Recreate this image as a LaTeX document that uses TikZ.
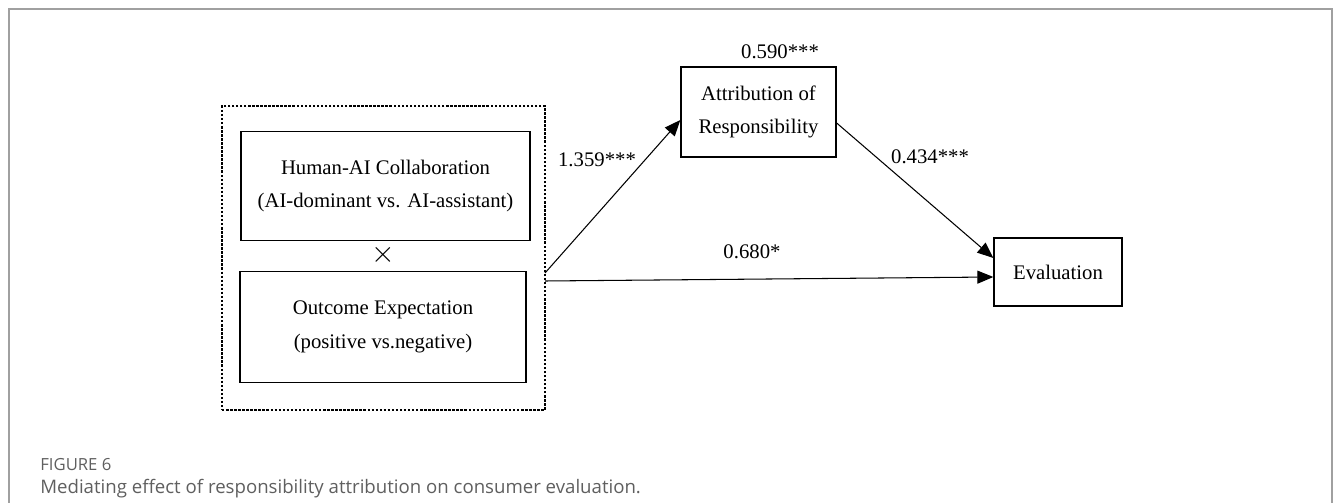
\documentclass[tikz,border=0pt]{standalone}
\usepackage{fontspec}
\setmainfont{Liberation Serif}
\newfontfamily\capfont{Open Sans}
\usetikzlibrary{arrows.meta}

\definecolor{framegray}{RGB}{160,160,160}
\definecolor{capgray}{RGB}{95,95,95}

\tikzset{
  varbox/.style={draw, line width=0.75pt, align=center, inner sep=0pt,
    font=\fontsize{11.8}{19}\selectfont},
  coef/.style={font=\fontsize{11.8}{14}\selectfont, inner sep=1pt},
  path/.style={line width=0.6pt, -{Triangle[length=0.32cm,width=0.26cm]}}
}

\begin{document}
\begin{tikzpicture}[x=0.02cm, y=-0.02cm]
  \useasboundingbox (0,0) rectangle (1333,503);
  \draw[framegray, line width=1.1pt] (9,503) -- (9,9) -- (1332,9) -- (1332,503);

  \node[draw, dash pattern=on 1.4pt off 0.9pt, line width=1.5pt, minimum width=6.46cm, minimum height=6.08cm] (grp) at (383.5,258) {};
  \node[varbox, minimum width=5.78cm, minimum height=2.18cm] (hac) at (385.5,186)
    {Human-AI Collaboration\\(AI-dominant vs. AI-assistant)};
  \node[coef, font=\fontsize{17}{17}\selectfont] (times) at (383,255) {$\times$};
  \node[varbox, minimum width=5.72cm, minimum height=2.22cm] (outc) at (383,327)
    {Outcome Expectation\\(positive vs.negative)};

  \node[varbox, minimum width=3.1cm, minimum height=1.8cm] (attr) at (758.5,112)
    {Attribution of\\Responsibility};
  \node[varbox, minimum width=2.56cm, minimum height=1.36cm] (eval) at (1058,272) {Evaluation};

  \coordinate (srcA) at (545,273);
  \coordinate (srcB) at (545,281);
  \draw[path] (srcA) -- ([yshift=-0.16cm]attr.west);
  \draw[path] ([yshift=-0.22cm]attr.east) -- ([yshift=0.28cm]eval.west);
  \draw[path] (srcB) -- ([yshift=-0.1cm]eval.west);

  \node[coef] (r2) at (780,52) {0.590***};
  \node[coef] (pa) at (597,160) {1.359***};
  \node[coef] (pb) at (930,157) {0.434***};
  \node[coef] (pc) at (752,252) {0.680*};

  \node[anchor=west, inner sep=0pt, text=capgray, font=\capfont\fontsize{9.5}{11}\selectfont] (fig) at (40,465) {FIGURE 6};
  \node[anchor=west, inner sep=0pt, text=capgray, font=\capfont\fontsize{10.6}{12}\selectfont] (cap) at (40,489)
    {Mediating effect of responsibility attribution on consumer evaluation.};
\end{tikzpicture}
\end{document}
